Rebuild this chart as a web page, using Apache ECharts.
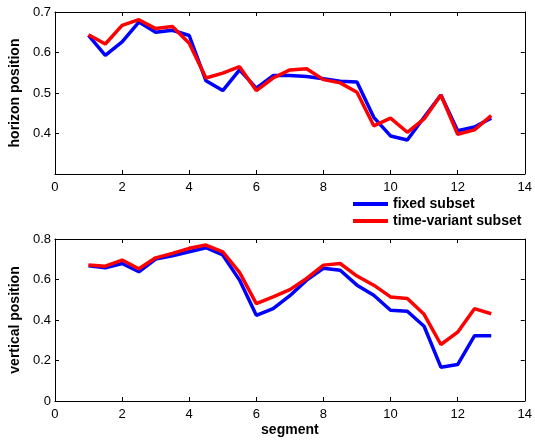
<!DOCTYPE html>
<html>
<head>
<meta charset="utf-8">
<script src="https://cdn.jsdelivr.net/npm/echarts@6/dist/echarts.min.js"></script>
<style>
html, body { margin: 0; padding: 0; background: #fff; }
#chart { width: 535px; height: 441px; }
</style>
</head>
<body>
<div id="chart"></div>
<script>
var segments = [1, 1.5, 2, 2.5, 3, 3.5, 4, 4.5, 5, 5.5, 6, 6.5, 7, 7.5, 8, 8.5, 9, 9.5, 10, 10.5, 11, 11.5, 12, 12.5, 13];

var horizonFixed = [0.642, 0.593, 0.626, 0.675, 0.650, 0.655, 0.642, 0.530, 0.506, 0.557, 0.512, 0.543, 0.543,
    0.541, 0.535, 0.529, 0.527, 0.440, 0.394, 0.384, 0.440, 0.495, 0.407, 0.416, 0.438];
var horizonVariant = [0.644, 0.621, 0.667, 0.681, 0.659, 0.664, 0.623, 0.537, 0.549, 0.565, 0.506, 0.537, 0.557,
    0.560, 0.533, 0.525, 0.502, 0.419, 0.438, 0.403, 0.436, 0.495, 0.398, 0.409, 0.444];

var verticalFixed = [0.668, 0.658, 0.679, 0.638, 0.701, 0.717, 0.737, 0.757, 0.721, 0.597, 0.423, 0.456, 0.520,
    0.597, 0.655, 0.646, 0.572, 0.522, 0.448, 0.443, 0.369, 0.167, 0.180, 0.322, 0.322];
var verticalVariant = [0.672, 0.666, 0.696, 0.653, 0.707, 0.729, 0.754, 0.770, 0.737, 0.635, 0.481, 0.514, 0.550,
    0.605, 0.671, 0.679, 0.617, 0.572, 0.514, 0.506, 0.428, 0.279, 0.340, 0.456, 0.431];

function pairs(xs, ys) {
    return xs.map(function (x, i) { return [x, ys[i]]; });
}

var font = 'Liberation Sans, Arial, sans-serif';
var labelStyle = { color: '#000', fontSize: 13, fontFamily: font };
var titleStyle = { color: '#000', fontSize: 14, fontWeight: 'bold', fontFamily: font };

function xAxisFor(grid, pos, showLabel, name) {
    return {
        type: 'value', gridIndex: grid, position: pos, min: 0, max: 14, interval: 2,
        axisLine: { show: true, onZero: false, lineStyle: { color: '#000', width: 1 } },
        axisTick: { show: true, inside: true, length: 4, lineStyle: { color: '#000' } },
        axisLabel: { show: showLabel, margin: 7, textStyle: labelStyle },
        splitLine: { show: false },
        name: name || '', nameLocation: 'middle', nameGap: 22, nameTextStyle: titleStyle
    };
}

function yAxisFor(grid, pos, min, max, step, showLabel, name) {
    return {
        type: 'value', gridIndex: grid, position: pos, min: min, max: max, interval: step,
        axisLine: { show: true, onZero: false, lineStyle: { color: '#000', width: 1 } },
        axisTick: { show: true, inside: true, length: 4, lineStyle: { color: '#000' } },
        axisLabel: {
            show: showLabel, margin: 4, textStyle: labelStyle,
            formatter: function (v) { return (min === 0.3 && v === 0.3) ? '' : String(Math.round(v * 10) / 10); }
        },
        splitLine: { show: false },
        name: name || '', nameLocation: 'middle', nameGap: 31, nameRotate: 90, nameTextStyle: titleStyle
    };
}

function lineSeries(name, xi, yi, data, color) {
    return {
        name: name, type: 'line', xAxisIndex: xi, yAxisIndex: yi,
        data: data, symbol: 'none', animation: false,
        lineStyle: { color: color, width: 3.5 }, itemStyle: { color: color }
    };
}

var chart = echarts.init(document.getElementById('chart'));
chart.setOption({
    backgroundColor: '#fff',
    animation: false,
    grid: [
        { left: 53, top: 12, width: 476, height: 162 },
        { left: 53, top: 239, width: 476, height: 162 }
    ],
    legend: {
        orient: 'vertical', left: 353, top: 197, itemGap: 3, padding: 0,
        itemWidth: 35, itemHeight: 4, icon: 'rect',
        textStyle: { color: '#000', fontSize: 14, fontWeight: 'bold', fontFamily: font },
        data: ['fixed subset', 'time-variant subset']
    },
    xAxis: [
        xAxisFor(0, 'bottom', true),
        xAxisFor(0, 'top', false),
        xAxisFor(1, 'bottom', true, 'segment'),
        xAxisFor(1, 'top', false)
    ],
    yAxis: [
        yAxisFor(0, 'left', 0.3, 0.7, 0.1, true, 'horizon position'),
        yAxisFor(0, 'right', 0.3, 0.7, 0.1, false),
        yAxisFor(1, 'left', 0, 0.8, 0.2, true, 'vertical position'),
        yAxisFor(1, 'right', 0, 0.8, 0.2, false)
    ],
    series: [
        lineSeries('fixed subset', 0, 0, pairs(segments, horizonFixed), '#0000ff'),
        lineSeries('time-variant subset', 0, 0, pairs(segments, horizonVariant), '#ff0000'),
        lineSeries('fixed subset', 2, 2, pairs(segments, verticalFixed), '#0000ff'),
        lineSeries('time-variant subset', 2, 2, pairs(segments, verticalVariant), '#ff0000')
    ]
});
</script>
</body>
</html>
